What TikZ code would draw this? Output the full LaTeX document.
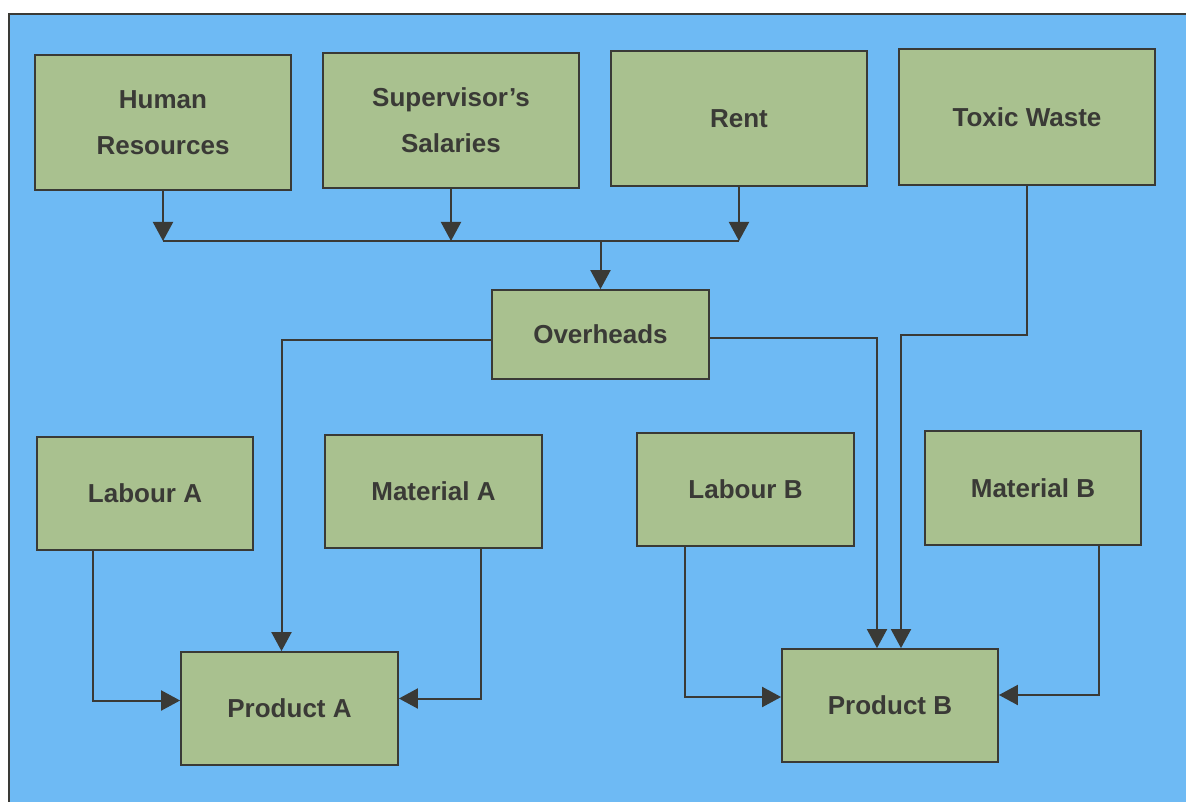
\documentclass[tikz,border=0pt]{standalone}
\usepackage{fontspec}
\setmainfont{Liberation Sans}
\usetikzlibrary{arrows.meta,calc}
\definecolor{panelblue}{HTML}{6EBAF4}
\definecolor{boxgreen}{HTML}{A9C18F}
\definecolor{ink}{HTML}{3A3A36}
\tikzset{
  costbox/.style={draw=ink, line width=1.8pt, fill=boxgreen, inner sep=0pt,
    align=center, text=ink, font=\fontsize{26}{46}\selectfont\bfseries},
  flow/.style={draw=ink, line width=2pt},
  flowarrow/.style={flow, -{Triangle[length=19pt,width=20pt]}},
}
\begin{document}
\begin{tikzpicture}[x=1pt,y=-1pt]
\useasboundingbox (0,0) rectangle (1186,802);
\fill[white] (0,0) rectangle (1186,802);
\begin{scope}
\clip (0,0) rectangle (1186,802);
\draw[fill=panelblue, draw=ink, line width=1.8pt] (9,14) rectangle (1200,820);
\end{scope}

% cost sources
\node[costbox, minimum width=256, minimum height=135] (hr)   at (163,122.5) {Human\\Resources};
\node[costbox, minimum width=256, minimum height=135] (sup)  at (451,120.5) {Supervisor’s\\Salaries};
\node[costbox, minimum width=256, minimum height=135] (rent) at (739,118.5) {Rent};
\node[costbox, minimum width=256, minimum height=136] (tw)   at (1027,117) {Toxic Waste};

\node[costbox, minimum width=217, minimum height=89] (ov) at (600.5,334.5) {Overheads};

\node[costbox, minimum width=216, minimum height=113] (la) at (145,493.5) {Labour A};
\node[costbox, minimum width=217, minimum height=113] (ma) at (433.5,491.5) {Material A};
\node[costbox, minimum width=217, minimum height=113] (lb) at (745.5,489.5) {Labour B};
\node[costbox, minimum width=216, minimum height=114] (mb) at (1033,488) {Material B};

\node[costbox, minimum width=217, minimum height=113] (pa) at (289.5,708.5) {Product A};
\node[costbox, minimum width=216, minimum height=113] (pb) at (890,705.5) {Product B};

% overhead bus
\coordinate (bus) at (0,241);
\draw[flowarrow] (hr.south) -- (hr.south |- bus);
\draw[flowarrow] (sup.south) -- (sup.south |- bus);
\draw[flowarrow] (rent.south) -- (rent.south |- bus);
\draw[flow] (hr.south |- bus) -- (rent.south |- bus);
\draw[flowarrow] (ov.north |- bus) -- (ov.north);

% overheads to products
\draw[flowarrow] ([yshift=-5pt]ov.west) -| ([xshift=-8pt]pa.north);
\draw[flowarrow] ([yshift=-3pt]ov.east) -| ([xshift=-13pt]pb.north);
\coordinate (twturn) at (0,335);
\draw[flowarrow] (tw.south) -- (tw.south |- twturn) -| ([xshift=11pt]pb.north);

% direct costs to products
\draw[flowarrow] ([xshift=-52pt]la.south) |- ([yshift=8pt]pa.west);
\draw[flowarrow] ([xshift=47.5pt]ma.south) |- ([yshift=10pt]pa.east);
\draw[flowarrow] ([xshift=-61pt]lb.south) |- ([yshift=8.5pt]pb.west);
\draw[flowarrow] ([xshift=66pt]mb.south) |- ([yshift=10.5pt]pb.east);
\end{tikzpicture}
\end{document}
